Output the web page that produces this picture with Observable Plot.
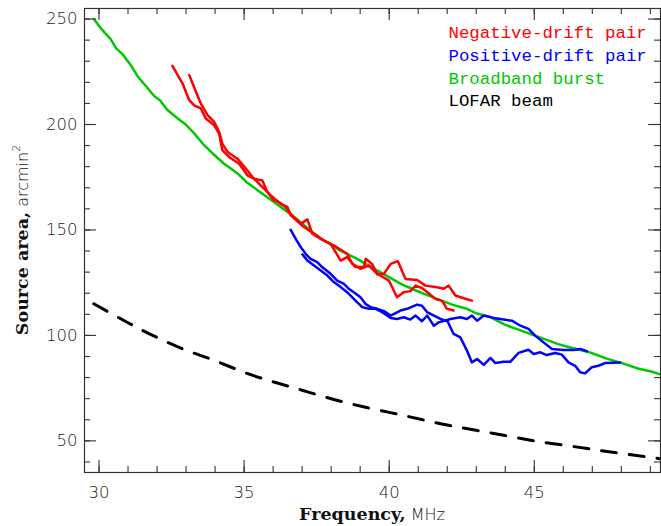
<!DOCTYPE html>
<html>
<head>
<meta charset="utf-8">
<script src="https://cdn.jsdelivr.net/npm/d3@7"></script>
<script src="https://cdn.jsdelivr.net/npm/@observablehq/plot@0.6"></script>
<style>
  html, body { margin: 0; padding: 0; background: #fff; }
  #chart svg { display: block; }
</style>
</head>
<body>
<div id="chart"></div>
<script>
// ---- Data ----
const negA_freq = [32.53,32.88,33.11,33.28,33.51,33.68,33.97,34.14,34.25,34.48,34.83,35.11,35.34,35.63,35.80,36.03,36.20,36.43,36.60,36.95,37.18,37.35,37.64,37.98,38.33,38.55,38.84,39.13,39.19,39.41,39.59,39.82,40.05,40.30,40.56,40.96,41.25,41.65,41.88,42.05,42.28,42.57,42.85];
const negA_area = [227.8,219.4,211.5,209.1,207.6,202.8,199.6,195.7,187.8,184.6,181.4,175.9,174.3,173.5,168.0,164.0,163.2,160.9,157.7,152.9,155.0,148.2,145.8,143.4,135.5,137.1,132.4,132.4,136.3,133.9,128.9,129.2,133.9,135.2,126.8,126.3,123.6,122.8,122.1,123.6,118.9,117.6,116.5];

const negB_freq = [33.11,33.34,33.51,33.74,33.97,34.14,34.25,34.43,34.77,35.06,35.29,35.57,35.92,36.26,36.49,36.61,37.06,37.41,37.75,38.10,38.55,38.73,39.01,39.30,39.53,39.70,39.99,40.27,40.50,40.73,40.91,41.13,41.36,41.59,41.82,41.99,42.22];
const negB_area = [223.4,215.5,209.9,204.4,201.2,196.5,190.9,187.0,183.8,179.1,175.1,171.1,166.4,162.4,160.9,156.9,151.4,148.2,145.0,142.6,138.7,133.9,131.6,133.1,130.0,128.4,126.0,118.1,120.5,121.0,123.6,122.5,120.0,117.3,116.5,112.6,111.8];

const posA_freq = [36.60,36.78,36.95,37.12,37.29,37.52,37.69,37.98,38.21,38.44,38.61,38.78,39.01,39.19,39.36,39.59,39.82,40.05,40.39,40.62,40.96,41.13,41.31,41.54,41.77,41.94,42.11,42.45,42.68,42.85,43.03,43.26,43.60,44.06,44.23,44.52,44.80,45.03,45.32,45.61,46.01,46.35,46.58,46.81];
const posA_area = [150.1,145.8,141.9,138.7,136.3,134.7,132.4,129.2,126.0,124.4,122.1,120.5,118.1,114.9,113.4,112.6,111.5,109.4,111.8,112.6,114.6,114.1,111.0,109.4,107.8,107.0,107.8,108.6,107.8,109.4,107.0,109.4,108.3,107.3,107.0,104.6,103.1,99.9,96.7,93.6,93.1,93.1,93.6,92.5];

const posB_freq = [37.01,37.18,37.41,37.64,37.87,38.10,38.33,38.55,38.84,39.07,39.30,39.53,39.76,40.05,40.27,40.50,40.73,40.91,41.13,41.31,41.54,41.71,41.99,42.22,42.45,42.68,42.85,43.03,43.26,43.49,43.66,43.94,44.17,44.46,44.80,44.98,45.21,45.43,45.72,45.95,46.18,46.41,46.58,46.75,46.98,47.21,47.44,47.96];
const posB_area = [138.4,135.5,133.1,130.8,128.4,125.2,122.9,120.5,116.5,113.4,112.6,112.6,111.0,108.3,107.8,108.6,107.5,109.4,106.7,109.4,104.6,106.2,107.3,100.7,99.1,92.8,87.2,88.8,86.0,89.3,86.9,87.5,87.5,91.7,93.2,91.2,92.0,90.7,91.7,90.9,87.2,85.6,82.5,82.0,84.9,85.6,86.9,87.2];

const broad_freq = [29.82,30.07,30.40,30.60,30.80,31.10,31.35,31.60,31.90,32.10,32.35,32.70,32.95,33.30,33.60,33.90,34.30,34.60,34.80,35.10,35.50,35.80,36.25,36.60,36.95,37.30,37.65,38.00,38.30,38.90,39.30,39.80,40.40,40.80,41.20,41.80,42.20,42.70,43.00,43.50,44.00,44.50,45.00,45.40,45.80,46.30,46.90,47.50,48.00,48.60,49.00,49.35];
const broad_area = [250.0,245.5,240.5,236.0,233.5,228.0,222.5,218.5,213.5,211.5,207.0,203.0,200.5,195.5,190.5,186.5,181.5,178.5,176.5,172.5,168.5,165.5,161.0,157.5,153.7,149.5,145.8,143.0,140.3,136.3,133.0,129.2,124.4,122.0,119.7,116.5,114.5,112.5,110.5,108.6,105.0,102.5,100.0,98.0,96.0,94.0,92.0,89.0,87.0,84.2,83.0,81.5];

const beam_freq = [29.82,31,32,33,34,35,36,37,38,39,40,41,42,43,44,45,46,47,48,49.35];
const beam_area = [115,106,99,93,88,82.5,78,74,70,66.5,63.5,60.5,57.5,55,52.5,50,48,46,44,41.5];

const legendLabels = ["Negative-drift pair","Positive-drift pair","Broadband burst","LOFAR beam"];
const legendColors = ["#ff0000","#0000ff","#00c800","#000000"];

const xMajor = [30,35,40,45];
const xMinor = d3.range(30,50,1);
const yMajor = [50,100,150,200,250];
const yMinor = d3.range(40,260,10);

// ---- Build tables ----
const toRows = (fs, as) => fs.map((f,i) => ({f, a: as[i]}));
const negA = toRows(negA_freq, negA_area);
const negB = toRows(negB_freq, negB_area);
const posA = toRows(posA_freq, posA_area);
const posB = toRows(posB_freq, posB_area);
const broad = toRows(broad_freq, broad_area);
const beam = toRows(beam_freq, beam_area);

const W = 661, H = 526;
const mL = 84, mR = 1, mT = 8, mB = 54;
const frameW = W - mL - mR, frameH = H - mT - mB;
const tickCol = "#333";

const lineOpts = (color) => ({x: "f", y: "a", stroke: color, strokeWidth: 2.5, curve: "linear"});

const marks = [
  Plot.line(beam, {x: "f", y: "a", stroke: "#000", strokeWidth: 3, strokeDasharray: "15,13", curve: "natural"}),
  Plot.line(broad, lineOpts(legendColors[2])),
  Plot.line(posA, lineOpts(legendColors[1])),
  Plot.line(posB, lineOpts(legendColors[1])),
  Plot.line(negA, lineOpts(legendColors[0])),
  Plot.line(negB, lineOpts(legendColors[0])),
  // inward ticks on all four sides
  Plot.ruleX(xMinor, {stroke: tickCol, strokeWidth: 1.1, insetTop: frameH - 6}),
  Plot.ruleX(xMajor, {stroke: tickCol, strokeWidth: 1.1, insetTop: frameH - 12}),
  Plot.ruleX(xMinor, {stroke: tickCol, strokeWidth: 1.1, insetBottom: frameH - 6}),
  Plot.ruleX(xMajor, {stroke: tickCol, strokeWidth: 1.1, insetBottom: frameH - 12}),
  Plot.ruleY(yMinor, {stroke: tickCol, strokeWidth: 1.1, insetRight: frameW - 6}),
  Plot.ruleY(yMajor, {stroke: tickCol, strokeWidth: 1.1, insetRight: frameW - 12}),
  Plot.ruleY(yMinor, {stroke: tickCol, strokeWidth: 1.1, insetLeft: frameW - 6}),
  Plot.ruleY(yMajor, {stroke: tickCol, strokeWidth: 1.1, insetLeft: frameW - 12}),
  Plot.frame({stroke: tickCol, strokeWidth: 1.2}),
  Plot.axisX({ticks: xMajor, tickSize: 0, tickPadding: 14, label: null, fontSize: 16.5, fontWeight: 200, fill: "#222"}),
  Plot.axisY({ticks: yMajor, tickSize: 0, tickPadding: 7, label: null, fontSize: 16.5, fontWeight: 200, fill: "#222"})
];

legendLabels.forEach((lab, i) => {
  marks.push(Plot.text([lab], {
    text: d => d,
    frameAnchor: "top-left",
    textAnchor: "start",
    lineAnchor: "middle",
    dx: 448 - mL,
    dy: 24 + i * 22.8,
    fill: legendColors[i],
    fontSize: 17.4,
    fontFamily: "Liberation Mono"
  }));
});

const svg = Plot.plot({
  width: W, height: H,
  marginLeft: mL, marginRight: mR, marginTop: mT, marginBottom: mB,
  style: {fontFamily: "DejaVu Sans", fontSize: "16.5px", background: "#fff", color: "#222"},
  x: {domain: [29.5, 49.35]},
  y: {domain: [35, 255]},
  marks
});

// axis titles with mixed styling
const s = d3.select(svg);
const xt = s.append("text")
  .attr("x", mL + frameW / 2)
  .attr("y", 520)
  .attr("text-anchor", "middle")
  .attr("fill", "#111");
xt.append("tspan").attr("font-family", "DejaVu Serif").attr("font-weight", "bold").attr("font-size", "17.5px").text("Frequency,");
xt.append("tspan").attr("font-family", "DejaVu Sans").attr("font-weight", "200").attr("font-size", "16px").text(" MHz");

const yt = s.append("text")
  .attr("transform", `translate(28,${mT + frameH / 2}) rotate(-90)`)
  .attr("text-anchor", "middle")
  .attr("fill", "#111");
yt.append("tspan").attr("font-family", "DejaVu Serif").attr("font-weight", "bold").attr("font-size", "17.5px").text("Source area,");
yt.append("tspan").attr("font-family", "DejaVu Sans").attr("font-weight", "200").attr("font-size", "16px").text(" arcmin");
yt.append("tspan").attr("font-family", "DejaVu Sans").attr("font-weight", "200").attr("font-size", "11px").attr("dy", "-8").text("2");

document.getElementById("chart").appendChild(svg);
</script>
</body>
</html>
